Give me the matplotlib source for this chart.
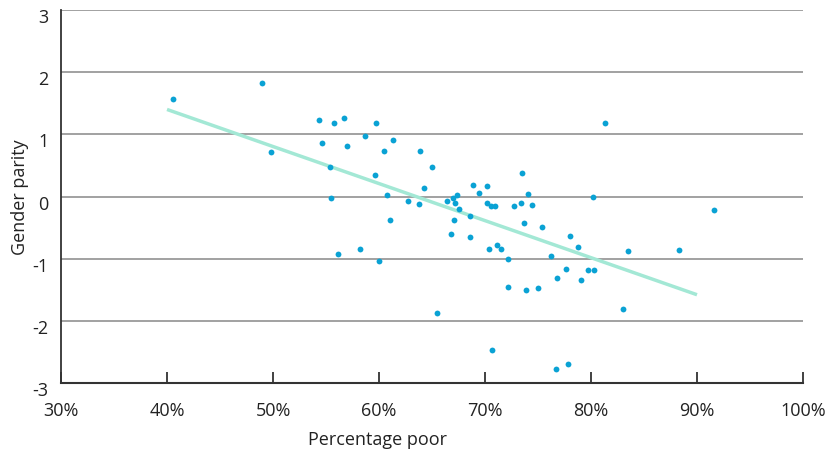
import matplotlib
matplotlib.use("Agg")
import matplotlib.pyplot as plt
from matplotlib.ticker import FuncFormatter
from matplotlib.transforms import ScaledTranslation

# Percentage poor (%) and gender parity
pct_poor = [40.6, 49.0, 49.8, 54.3, 54.6, 55.4, 55.5, 55.8, 56.1, 56.7,
            57.0, 58.2, 58.7, 59.6, 59.7, 60.0, 60.5, 60.8, 61.0, 61.3,
            62.7, 63.8, 63.9, 64.2, 65.0, 65.5, 66.4, 66.8, 67.0, 67.1,
            67.2, 67.4, 67.5, 68.6, 68.6, 68.9, 69.4, 70.2, 70.2, 70.4,
            70.6, 70.7, 70.9, 71.1, 71.5, 72.2, 72.2, 72.7, 73.4, 73.5,
            73.7, 73.9, 74.1, 74.4, 75.0, 75.4, 76.2, 76.7, 76.8, 77.6,
            77.8, 78.0, 78.8, 79.1, 79.7, 80.2, 80.3, 81.3, 83.0, 83.5,
            88.3, 91.6]
parity = [1.57, 1.82, 0.71, 1.23, 0.86, 0.47, -0.03, 1.19, -0.93, 1.26,
          0.82, -0.84, 0.97, 0.35, 1.19, -1.04, 0.73, 0.02, -0.37, 0.91,
          -0.07, -0.12, 0.73, 0.13, 0.47, -1.88, -0.08, -0.60, -0.02, -0.37,
          -0.11, 0.03, -0.20, -0.32, -0.65, 0.19, 0.05, 0.17, -0.11, -0.85,
          -0.16, -2.47, -0.16, -0.78, -0.85, -1.00, -1.45, -0.16, -0.10, 0.37,
          -0.43, -1.51, 0.04, -0.14, -1.47, -0.49, -0.95, -2.77, -1.31, -1.16,
          -2.70, -0.63, -0.81, -1.35, -1.18, 0.00, -1.18, 1.18, -1.81, -0.88,
          -0.86, -0.21]

# trend line end points
trend_x = [40, 90]
trend_y = [1.40, -1.58]

x_ticks = [30, 40, 50, 60, 70, 80, 90, 100]
y_ticks = [-3, -2, -1, 0, 1, 2, 3]

plt.rcParams["font.family"] = ["Open Sans", "DejaVu Sans"]
plt.rcParams["axes.unicode_minus"] = False

fig = plt.figure(figsize=(8.28, 4.52), dpi=100)
ax = fig.add_axes([0.0737, 0.1504, 0.8961, 0.8253])

# Grid lines
for yv in y_ticks[1:]:
    ax.axhline(yv, color="#9a9a9a", lw=1.3, zorder=1)

ax.plot(trend_x, trend_y, color="#a3e8d5", lw=2.5, zorder=2, solid_capstyle="butt")
ax.plot(pct_poor, parity, "o", color="#0aa2d4", ms=4.2, mec="none", zorder=3)

ax.set_xlim(30, 100)
ax.set_ylim(-3, 3)
ax.set_xticks(x_ticks)
ax.set_yticks(y_ticks)
ax.xaxis.set_major_formatter(FuncFormatter(lambda v, p: "{:d}%".format(int(v))))

for s in ["top", "right"]:
    ax.spines[s].set_visible(False)
ax.spines["left"].set_color("#333333")
ax.spines["bottom"].set_color("#333333")
ax.spines["left"].set_linewidth(1.3)
ax.spines["bottom"].set_linewidth(1.5)

ax.tick_params(axis="x", direction="in", length=8, width=1.3, color="#333333",
               pad=13, labelsize=13, labelcolor="#222222")
ax.tick_params(axis="y", length=0, pad=9, labelsize=13, labelcolor="#222222")

# y labels sit a little below their grid line in the original
off = ScaledTranslation(0, -5 / 100, fig.dpi_scale_trans)
for lab in ax.get_yticklabels():
    lab.set_transform(lab.get_transform() + off)

ax.set_xlabel("Percentage poor", fontsize=13, color="#222222")
ax.xaxis.set_label_coords(0.426, -0.125)
ax.set_ylabel("Gender parity", fontsize=13, color="#222222")
ax.yaxis.set_label_coords(-0.043, 0.5)

plt.savefig("out.png", dpi=100)
